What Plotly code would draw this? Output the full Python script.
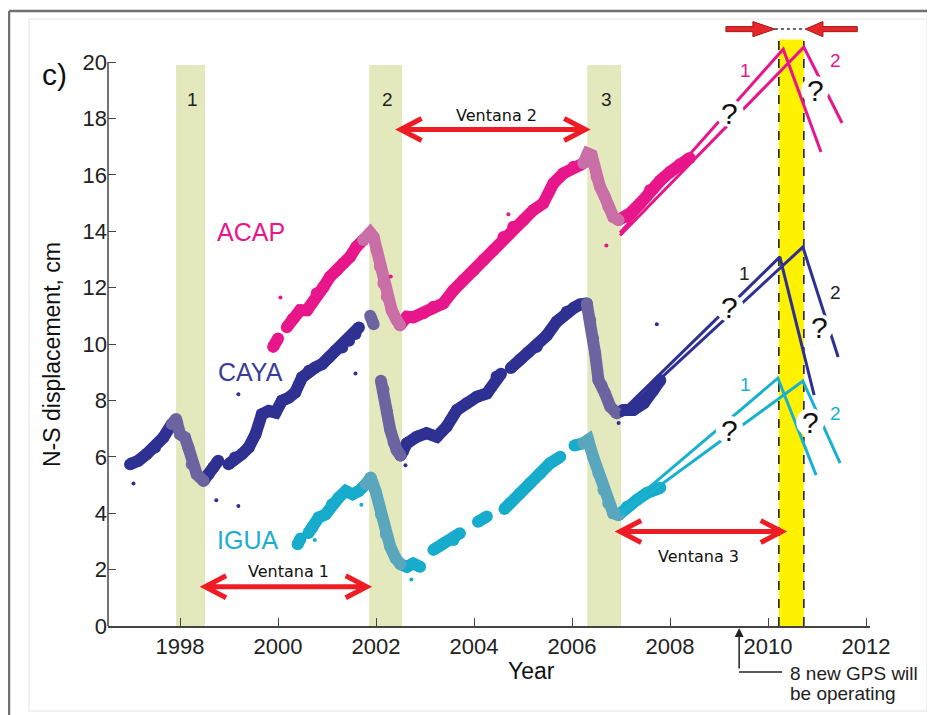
import plotly.graph_objects as go

# ---------------- data ----------------
ACAP_YEAR = [1999.90, 2000.00, None, 2000.18, 2000.30, 2000.45, 2000.59, 2000.79, 2000.93, 2001.06,
             2001.20, 2001.33, 2001.47, 2001.60, 2001.74, 2001.88, 2001.95, 2002.01, 2002.08, 2002.15,
             2002.22, 2002.32, 2002.42, 2002.49, 2002.63, 2002.76, 2002.97, 2003.17, 2003.37, 2003.58,
             2003.78, 2003.99, 2004.19, 2004.39, 2004.60, 2004.80, 2005.01, 2005.21, 2005.41, 2005.62,
             2005.82, 2006.03, 2006.23, 2006.32, 2006.40, 2006.43, 2006.50, 2006.57, 2006.67, 2006.74,
             2006.84, 2006.95, 2007.08, 2007.18, 2007.39, 2007.59, 2007.80, 2008.00, 2008.20, 2008.40]
ACAP_NS = [9.90, 10.20, None, 10.60, 10.90, 11.20, 11.20, 11.80, 12.03, 12.39,
           12.62, 12.86, 13.10, 13.45, 13.69, 13.95, 13.80, 13.33, 12.74, 12.15,
           11.68, 11.20, 10.85, 10.67, 10.97, 10.95, 11.09, 11.32, 11.44, 11.91,
           12.27, 12.62, 12.98, 13.33, 13.80, 14.16, 14.40, 14.75, 14.99, 15.70,
           16.05, 16.29, 16.41, 16.76, 16.70, 16.41, 15.93, 15.58, 15.22, 14.87,
           14.51, 14.40, 14.51, 14.63, 14.99, 15.46, 15.80, 16.10, 16.38, 16.60]

CAYA_YEAR = [1996.98, 1997.15, 1997.32, 1997.49, 1997.66, 1997.83, 1997.92, 1998.00, 1998.10, 1998.17,
             1998.24, 1998.34, 1998.48, 1998.58, 1998.68, 1998.78, None, 1998.99, 1999.12, 1999.26,
             1999.40, 1999.54, 1999.67, 1999.81, 1999.95, 2000.08, 2000.22, 2000.35, 2000.49, 2000.63,
             2000.76, 2000.90, 2001.04, 2001.17, 2001.31, 2001.45, 2001.58, 2001.65, None, 2001.88,
             2001.95, None, 2002.10, 2002.15, 2002.22, 2002.29, 2002.36, 2002.42, 2002.50, 2002.55,
             2002.63, 2002.83, 2003.03, 2003.24, 2003.44, 2003.65, 2003.85, 2004.06, 2004.26, 2004.46,
             2004.55, None, 2004.75, 2004.94, 2005.10, 2005.28, 2005.48, 2005.69, 2005.89, 2006.05,
             2006.16, 2006.30, 2006.37, 2006.43, 2006.47, 2006.54, 2006.60, 2006.67, 2006.78, 2006.91,
             2007.05, 2007.25, 2007.46, 2007.66, 2007.80]
CAYA_NS = [5.74, 5.86, 6.10, 6.33, 6.69, 7.16, 7.34, 6.80, 6.69, 6.33,
           5.74, 5.38, 5.15, 5.38, 5.62, 5.86, None, 5.74, 5.98, 6.09,
           6.33, 6.80, 7.51, 7.63, 7.57, 7.99, 8.10, 8.28, 8.82, 9.05,
           9.17, 9.29, 9.53, 9.76, 9.88, 10.12, 10.36, 10.59, None, 11.00,
           10.70, None, 8.70, 8.40, 7.60, 6.95, 6.50, 6.24, 6.05, 6.20,
           6.48, 6.71, 6.84, 6.71, 7.07, 7.66, 7.90, 8.13, 8.25, 8.85,
           8.95, None, 9.15, 9.45, 9.70, 9.90, 10.30, 10.80, 11.15, 11.30,
           11.40, 11.44, 10.85, 10.20, 9.68, 8.72, 8.55, 8.26, 7.78, 7.55,
           7.66, 7.66, 7.90, 8.37, 8.72]

IGUA_YEAR = [2000.40, 2000.46, None, 2000.62, 2000.70, 2000.83, 2000.97, 2001.10, 2001.24, 2001.38,
             2001.52, 2001.65, 2001.79, 2001.89, 2001.99, 2002.10, 2002.20, 2002.29, 2002.40, 2002.50,
             2002.63, 2002.76, 2002.90, None, 2003.17, 2003.37, 2003.58, 2003.71, None, 2004.08,
             2004.26, None, 2004.62, 2004.73, 2004.94, 2005.14, 2005.35, 2005.55, 2005.76, None,
             2006.05, 2006.23, 2006.33, 2006.43, 2006.54, 2006.64, 2006.74, 2006.84, 2006.95, 2007.12,
             2007.32, 2007.52, 2007.66, 2007.80]
IGUA_NS = [2.90, 3.10, None, 3.30, 3.49, 3.85, 3.96, 4.32, 4.56, 4.79,
           4.67, 4.79, 5.03, 5.27, 4.79, 3.96, 3.25, 2.81, 2.40, 2.19,
           2.10, 2.22, 2.10, None, 2.70, 2.93, 3.05, 3.29, None, 3.70,
           3.88, None, 4.15, 4.35, 4.71, 5.06, 5.41, 5.77, 6.00, None,
           6.40, 6.48, 6.60, 6.00, 5.41, 4.82, 4.35, 4.00, 3.94, 4.23,
           4.47, 4.71, 4.82, 4.90]

# scattered single points
CAYA_OUT_YEAR = [1998.74, 1999.19, 1999.19, 2001.58, 2007.73, 1997.05, 2002.60, 2006.95]
CAYA_OUT_NS = [4.46, 4.26, 8.22, 8.96, 10.70, 5.05, 5.70, 7.20]
ACAP_OUT_YEAR = [2000.05, 2006.70, 2002.30, 2004.70]
ACAP_OUT_NS = [11.65, 13.50, 12.40, 14.60]
IGUA_OUT_YEAR = [2002.72, 2001.70, 2000.75]
IGUA_OUT_NS = [1.65, 4.30, 3.05]

# projected scenarios 1 and 2 (start, peak, end)
ACAP_P1_YEAR = [2006.98, 2010.31, 2011.08]
ACAP_P1_NS = [13.95, 20.46, 16.81]
ACAP_P2_YEAR = [2006.98, 2010.73, 2011.51]
ACAP_P2_NS = [13.85, 20.53, 17.84]
CAYA_P1_YEAR = [2006.98, 2010.24, 2010.94]
CAYA_P1_NS = [7.55, 13.09, 8.19]
CAYA_P2_YEAR = [2006.98, 2010.71, 2011.43]
CAYA_P2_NS = [7.45, 13.44, 9.54]
IGUA_P1_YEAR = [2006.98, 2010.20, 2010.98]
IGUA_P1_NS = [4.04, 8.79, 5.35]
IGUA_P2_YEAR = [2006.98, 2010.71, 2011.47]
IGUA_P2_NS = [3.95, 8.69, 5.78]

# slow slip event bands
BAND_START = [1997.92, 2001.86, 2006.31]
BAND_END = [1998.51, 2002.53, 2007.00]
BAND_LABELS = ["1", "2", "3"]
BAND_TOP = 19.9
NEXT_START, NEXT_END, NEXT_TOP = 2010.22, 2010.73, 20.8

VENTANA_LABELS = ["Ventana 1", "Ventana 2", "Ventana 3"]
VENTANA_FROM = [1998.51, 2002.50, 2006.98]
VENTANA_TO = [2001.81, 2006.27, 2010.28]
VENTANA_LEVEL = [1.39, 17.61, 3.35]

X_TICKS = [1998, 2000, 2002, 2004, 2006, 2008, 2010, 2012]
Y_TICKS = list(range(0, 21, 2))

# ---------------- styling ----------------
W, H = 935, 715
OFF = 8                      # page offset of the figure inside the browser window
PL, PR, PT, PB = 108, 870, 17, 626   # plot area in window pixels
ML, MT = PL - OFF, PT - OFF
MR = W - ML - (PR - PL)
MB = H - MT - (PB - PT)
XR = [1996.53, 2012.08]
YR = [0, 21.6]
FONT = "Liberation Sans, Arial, sans-serif"
VFONT = "DejaVu Sans, Verdana, sans-serif"

C_ACAP, C_ACAP_B = "#e8168b", "#c96ea6"
C_CAYA, C_CAYA_B = "#2e3192", "#6b64a0"
C_IGUA, C_IGUA_B = "#17abcc", "#5aa6bd"
RED = "#ee1c24"


def pxx(px):
    return (px - PL) / (PR - PL)


def pxy(py):
    return (PB - py) / (PB - PT)


def in_band(x):
    return any(b0 <= x <= b1 for b0, b1 in zip(BAND_START, BAND_END))


def split(xs, ys):
    """split a series into (in_band?, xs, ys) pieces, sharing edge points"""
    segs, cur, prev = [], None, None
    for x, y in zip(xs, ys):
        if x is None:
            cur, prev = None, None
            continue
        f = in_band(x)
        if cur is None or cur[0] != f:
            cur = (f, [], [])
            segs.append(cur)
            if prev is not None:
                cur[1].append(prev[0])
                cur[2].append(prev[1])
        cur[1].append(x)
        cur[2].append(y)
        prev = (x, y)
    return segs


fig = go.Figure()


def add_station(xs, ys, col, colb, oxs, oys):
    segs = split(xs, ys)
    for flag in (False, True):
        X, Y = [], []
        for f, sx, sy in segs:
            if f == flag:
                X += sx + [None]
                Y += sy + [None]
        fig.add_trace(go.Scatter(x=X, y=Y, mode="lines+markers",
                                 line=dict(color=colb if flag else col, width=12),
                                 marker=dict(color=colb if flag else col, size=12),
                                 hoverinfo="skip", showlegend=False))
    fig.add_trace(go.Scatter(x=oxs, y=oys, mode="markers",
                             marker=dict(color=col, size=4),
                             hoverinfo="skip", showlegend=False))


add_station(ACAP_YEAR, ACAP_NS, C_ACAP, C_ACAP_B, ACAP_OUT_YEAR, ACAP_OUT_NS)
add_station(CAYA_YEAR, CAYA_NS, C_CAYA, C_CAYA_B, CAYA_OUT_YEAR, CAYA_OUT_NS)
add_station(IGUA_YEAR, IGUA_NS, C_IGUA, C_IGUA_B, IGUA_OUT_YEAR, IGUA_OUT_NS)

for xs, ys, col in [(ACAP_P1_YEAR, ACAP_P1_NS, C_ACAP), (ACAP_P2_YEAR, ACAP_P2_NS, C_ACAP),
                    (CAYA_P1_YEAR, CAYA_P1_NS, C_CAYA), (CAYA_P2_YEAR, CAYA_P2_NS, C_CAYA),
                    (IGUA_P1_YEAR, IGUA_P1_NS, "#1ab1cf"), (IGUA_P2_YEAR, IGUA_P2_NS, "#1ab1cf")]:
    fig.add_trace(go.Scatter(x=xs, y=ys, mode="lines", line=dict(color=col, width=3),
                             hoverinfo="skip", showlegend=False))

shapes = []
# frame
shapes.append(dict(type="line", xref="paper", yref="paper", x0=pxx(9), x1=pxx(935), y0=pxy(11), y1=pxy(11),
                   line=dict(color="#707070", width=2.5)))
shapes.append(dict(type="line", xref="paper", yref="paper", x0=pxx(9), x1=pxx(9), y0=pxy(11), y1=pxy(715),
                   line=dict(color="#707070", width=2.5)))
shapes.append(dict(type="rect", xref="paper", yref="paper", x0=pxx(29), x1=pxx(927), y0=pxy(711), y1=pxy(19),
                   line=dict(color="#e2e2e2", width=1)))
# y axis line
shapes.append(dict(type="line", xref="paper", yref="paper", x0=0, x1=0, y0=0, y1=20 / YR[1],
                   line=dict(color="#444", width=1.5)))
# bands
for b0, b1 in zip(BAND_START, BAND_END):
    shapes.append(dict(type="rect", xref="x", yref="y", x0=b0, x1=b1, y0=0, y1=BAND_TOP,
                       fillcolor="#e3e8bd", line=dict(width=0), layer="below"))
shapes.append(dict(type="rect", xref="x", yref="y", x0=NEXT_START, x1=NEXT_END, y0=0, y1=NEXT_TOP,
                   fillcolor="#fff200", line=dict(width=0), layer="below"))
for xx in (NEXT_START, NEXT_END):
    shapes.append(dict(type="line", xref="x", yref="y", x0=xx, x1=xx, y0=0, y1=NEXT_TOP,
                       line=dict(color="#222", width=1.6, dash="dash"), layer="below"))

# ventana arrows
DX, DY = 0.43, 0.39
for a, b, lv in zip(VENTANA_FROM, VENTANA_TO, VENTANA_LEVEL):
    p = (f"M {a+DX},{lv+DY} L {a},{lv} L {a+DX},{lv-DY} M {a},{lv} L {b},{lv} "
         f"M {b-DX},{lv+DY} L {b},{lv} L {b-DX},{lv-DY}")
    shapes.append(dict(type="path", xref="x", yref="y", path=p, line=dict(color=RED, width=5)))

# top block arrows
TY = 21.17
SH, HH = 0.09, 0.27
lt = (f"M 2009.14,{TY-SH} L 2009.69,{TY-SH} L 2009.69,{TY-HH} L 2010.14,{TY} "
      f"L 2009.69,{TY+HH} L 2009.69,{TY+SH} L 2009.14,{TY+SH} Z")
rt = (f"M 2011.82,{TY-SH} L 2011.12,{TY-SH} L 2011.12,{TY-HH} L 2010.76,{TY} "
      f"L 2011.12,{TY+HH} L 2011.12,{TY+SH} L 2011.82,{TY+SH} Z")
for p in (lt, rt):
    shapes.append(dict(type="path", xref="x", yref="y", path=p, fillcolor="#e8262a",
                       line=dict(color="#9a1a1a", width=1)))
shapes.append(dict(type="line", xref="x", yref="y", x0=2010.14, x1=2010.76, y0=TY, y1=TY,
                   line=dict(color="#333", width=1.5, dash="dot")))

# question-mark knockouts
Q_POS = [(2009.22, 18.19), (2009.22, 11.28), (2009.22, 6.95), (2010.96, 19.01), (2011.04, 10.57), (2010.86, 7.23)]
for qx, qy in Q_POS:
    shapes.append(dict(type="circle", xref="x", yref="y", xsizemode="pixel", ysizemode="pixel",
                       xanchor=qx, yanchor=qy, x0=-14, x1=14, y0=-14, y1=14,
                       fillcolor="white", line=dict(width=0), layer="above"))

# "8 new GPS" pointer
shapes.append(dict(type="line", xref="paper", yref="paper", x0=pxx(739), x1=pxx(782), y0=pxy(672), y1=pxy(672),
                   line=dict(color="#222", width=1.5)))

ann = []


def txt(text, x, y, size, color="#111", family=FONT, xref="x", yref="y", **kw):
    d = dict(text=text, x=x, y=y, xref=xref, yref=yref, showarrow=False,
             xanchor="center", yanchor="middle",
             font=dict(size=size, color=color, family=family))
    d.update(kw)
    ann.append(d)


txt("c)", pxx(54), pxy(74), 30, xref="paper", yref="paper")
txt("N-S displacement, cm", pxx(52), pxy(355), 23, xref="paper", yref="paper", textangle=-90)
txt("Year", pxx(531), pxy(671), 23, xref="paper", yref="paper")
txt("ACAP", 1999.44, 13.99, 25, C_ACAP)
txt("CAYA", 1999.43, 9.0, 25, "#3a3c96")
txt("IGUA", 1999.38, 3.05, 25, "#19aed0")
for b0, b1, lab in zip(BAND_START, BAND_END, BAND_LABELS):
    txt(lab, (b0 + b1) / 2 + 0.04, 18.69, 19, "#222")
VLAB_POS = [(2000.21, 1.93), (2004.45, 18.12), (2008.57, 2.48)]
for lab, (lx, ly) in zip(VENTANA_LABELS, VLAB_POS):
    txt(lab, lx, ly, 16, "#111", VFONT)
for qx, qy in Q_POS:
    txt("?", qx, qy, 30, "#111")
txt("1", 2009.53, 19.72, 19, C_ACAP)
txt("2", 2011.37, 20.07, 19, C_ACAP)
txt("1", 2009.51, 12.52, 19, "#222")
txt("2", 2011.37, 11.84, 19, "#222")
txt("1", 2009.53, 8.55, 19, "#1ab1cf")
txt("2", 2011.37, 7.55, 19, "#1ab1cf")
txt("8 new GPS will", pxx(788), pxy(674), 19, "#222", xref="paper", yref="paper", xanchor="left")
txt("be operating", pxx(788), pxy(693), 19, "#222", xref="paper", yref="paper", xanchor="left")
ann.append(dict(x=2009.41, y=0, xref="x", yref="y", ax=0, ay=44, text="", showarrow=True,
                arrowhead=2, arrowsize=1.2, arrowwidth=1.5, arrowcolor="#222", standoff=2))

fig.update_layout(
    width=W, height=H, margin=dict(l=ML, r=MR, t=MT, b=MB),
    paper_bgcolor="white", plot_bgcolor="white",
    shapes=shapes, annotations=ann, showlegend=False,
    xaxis=dict(range=XR, showgrid=False, zeroline=False, showline=True, linecolor="#444", linewidth=1.5,
               ticks="inside", ticklen=8, tickwidth=1.2, tickcolor="#444", tickvals=X_TICKS,
               tickfont=dict(size=22, family=FONT, color="#222")),
    yaxis=dict(range=YR, showgrid=False, zeroline=False, showline=False,
               ticks="inside", ticklen=8, tickwidth=1.2, tickcolor="#444", tickvals=Y_TICKS,
               tickfont=dict(size=22, family=FONT, color="#222")),
)

fig.write_html("out.html")
